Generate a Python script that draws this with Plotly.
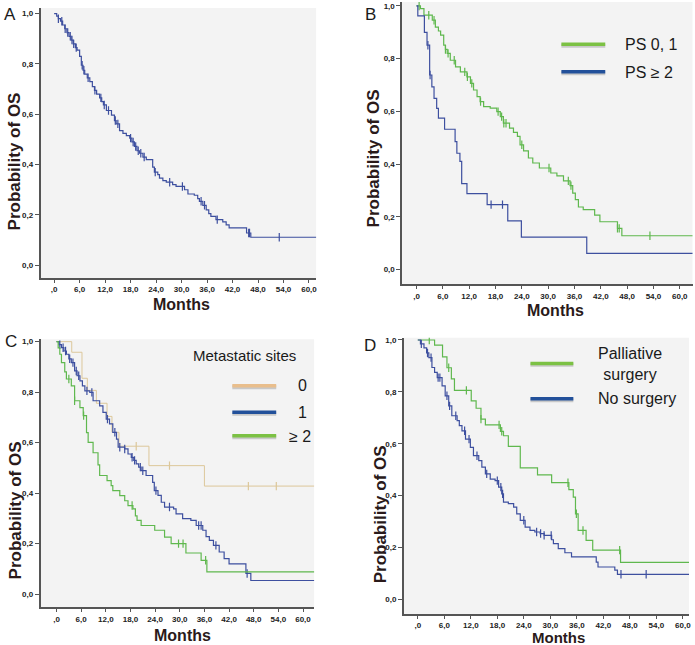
import numpy as np
import plotly.graph_objects as go

# ---------------- DATA ----------------
month_ticks = [0, 6, 12, 18, 24, 30, 36, 42, 48, 54, 60]
month_labels = [",0", "6,0", "12,0", "18,0", "24,0", "30,0", "36,0", "42,0", "48,0", "54,0", "60,0"]
prob_ticks = [0.0, 0.2, 0.4, 0.6, 0.8, 1.0]
prob_labels = ["0,0", "0,2", "0,4", "0,6", "0,8", "1,0"]
last_followup = 65

# Panel A - all patients
a_t = [0, 0.6, 1.0, 1.5, 2.0, 2.5, 3.0, 3.5, 4.0, 4.5, 5.0, 5.4, 6.0, 6.4, 6.8, 7.2, 7.8, 8.4, 9.0, 9.5,
       10.0, 10.7, 11.2, 11.6, 12.3, 13.5, 14.2, 14.6, 15.4, 16.2, 17.0, 17.8, 18.3, 18.9, 19.5, 20.1,
       20.9, 21.7, 23.2, 23.6, 24.4, 24.8, 25.6, 26.4, 27.9, 28.7, 30.7, 31.5, 33.0, 33.8, 34.2, 35.0,
       35.8, 36.4, 36.9, 38.1, 39.7, 40.5, 41.2, 45.3, 46.3]
a_s = [1.0, 0.99, 0.98, 0.97, 0.955, 0.94, 0.925, 0.91, 0.895, 0.88, 0.865, 0.855, 0.83, 0.795, 0.775,
       0.76, 0.745, 0.73, 0.71, 0.695, 0.68, 0.665, 0.65, 0.637, 0.615, 0.597, 0.575, 0.562, 0.535, 0.524,
       0.515, 0.505, 0.49, 0.472, 0.455, 0.445, 0.43, 0.42, 0.39, 0.37, 0.36, 0.346, 0.336, 0.33, 0.32,
       0.313, 0.30, 0.283, 0.278, 0.265, 0.254, 0.238, 0.22, 0.205, 0.194, 0.181, 0.172, 0.16, 0.148,
       0.128, 0.111]
a_cens = [1.0, 1.8, 2.6, 3.2, 3.8, 4.2, 4.6, 5.2, 6.6, 7.0, 8.0, 9.6, 11.0, 11.8, 12.8, 14.4, 15.0, 18.0,
          18.6, 19.2, 19.8, 20.4, 21.2, 23.8, 27.2, 30.2, 34.6, 35.4, 38.4, 45.8, 46.0, 53.0]

# Panel B - performance status
b_names = ["PS 0, 1", "PS ≥ 2"]
b1_t = [0, 0.9, 1.7, 3.6, 4.3, 5.0, 5.5, 6.2, 6.6, 7.0, 7.7, 8.9, 10.0, 11.5, 12.3, 13.0, 13.8, 14.5,
        15.3, 16.8, 18.3, 19.1, 19.8, 21.2, 22.1, 23.0, 23.6, 24.4, 25.5, 26.5, 28.0, 30.6, 32.0, 33.5,
        35.0, 35.6, 36.2, 36.9, 38.0, 40.6, 41.8, 45.8, 46.8]
b1_s = [1.0, 0.99, 0.965, 0.946, 0.92, 0.905, 0.889, 0.851, 0.835, 0.82, 0.794, 0.769, 0.75, 0.731,
        0.706, 0.681, 0.656, 0.637, 0.618, 0.612, 0.599, 0.58, 0.555, 0.536, 0.52, 0.505, 0.473, 0.45,
        0.423, 0.404, 0.385, 0.366, 0.355, 0.336, 0.318, 0.29, 0.265, 0.237, 0.227, 0.206, 0.181, 0.156,
        0.128]
b1_cens = [0.6, 2.8, 4.0, 6.6, 7.2, 8.6, 11.0, 11.6, 12.6, 14.6, 18.6, 19.4, 19.9, 20.4, 24.0, 30.2,
           34.6, 35.2, 45.8, 46.2, 53.2]
b2_t = [0, 0.3, 1.8, 2.4, 3.0, 3.5, 4.0, 4.6, 5.0, 6.4, 8.8, 9.2, 9.9, 10.3, 11.5, 16.1, 20.8, 23.9, 38.8]
b2_s = [1.0, 0.962, 0.90, 0.851, 0.738, 0.693, 0.649, 0.611, 0.574, 0.532, 0.485, 0.441, 0.41, 0.326,
        0.288, 0.246, 0.184, 0.123, 0.061]
b2_cens = [2.6, 3.1, 17.0, 19.6]

# Panel C - metastatic sites
c_title = "Metastatic sites"
c_names = ["0", "1", "≥ 2"]
c0_t = [0, 3.7, 6.2, 7.5, 9.7, 12.3, 13.5, 15.2, 22.5, 36.0]
c0_s = [1.0, 0.958, 0.855, 0.807, 0.756, 0.704, 0.641, 0.586, 0.509, 0.428]
c0_cens = [19.4, 27.5, 46.7, 53.5]
c1_t = [0, 0.6, 1.2, 1.8, 2.4, 3.0, 3.6, 4.4, 5.0, 5.7, 6.3, 6.9, 8.1, 8.9, 10.5, 11.3, 12.1, 12.9,
        13.7, 14.6, 15.0, 16.6, 17.4, 18.2, 18.8, 19.4, 20.0, 20.6, 21.8, 23.4, 23.8, 24.7, 25.5, 26.3,
        28.5, 29.1, 30.7, 32.7, 34.0, 35.6, 36.4, 37.2, 38.2, 39.6, 40.8, 42.0, 46.1, 47.3]
c1_s = [1.0, 0.988, 0.976, 0.963, 0.95, 0.932, 0.917, 0.884, 0.865, 0.845, 0.825, 0.805, 0.799, 0.766,
        0.746, 0.72, 0.693, 0.674, 0.641, 0.614, 0.582, 0.575, 0.555, 0.542, 0.53, 0.516, 0.503, 0.489,
        0.47, 0.443, 0.41, 0.391, 0.364, 0.345, 0.338, 0.318, 0.299, 0.292, 0.272, 0.253, 0.228, 0.213,
        0.193, 0.167, 0.141, 0.12, 0.082, 0.054]
c1_cens = [0.8, 1.6, 2.2, 3.2, 4.0, 4.8, 5.4, 7.4, 8.6, 12.4, 14.2, 15.4, 16.6, 18.4, 19.0, 20.4, 21.0,
           24.2, 27.5, 34.6, 35.2, 38.8, 46.4]
c2_t = [0, 0.4, 0.8, 1.2, 2.0, 2.4, 3.6, 4.4, 5.7, 6.5, 7.3, 7.7, 8.9, 10.1, 10.5, 12.3, 13.3, 13.7,
        15.4, 16.6, 17.4, 18.6, 19.2, 19.6, 20.6, 23.9, 26.3, 27.9, 31.5, 35.2, 36.6]
c2_s = [1.0, 0.975, 0.95, 0.917, 0.88, 0.852, 0.825, 0.766, 0.739, 0.707, 0.64, 0.601, 0.56, 0.512,
        0.47, 0.45, 0.43, 0.41, 0.39, 0.37, 0.351, 0.338, 0.31, 0.292, 0.272, 0.253, 0.226, 0.2, 0.163,
        0.134, 0.088]
c2_cens = [3.0, 4.4, 6.6, 18.4, 29.7, 30.8, 36.3]

# Panel D - palliative surgery
d_names = ["Palliative<br>surgery", "No surgery"]
d1_t = [0, 3.8, 5.6, 6.6, 7.6, 8.3, 12.1, 13.2, 14.3, 15.3, 18.7, 19.4, 20.5, 23.2, 27.1, 30.3, 34.2,
        35.2, 35.7, 36.3, 38.1, 39.6, 45.9]
d1_s = [1.0, 0.98, 0.935, 0.893, 0.85, 0.806, 0.765, 0.737, 0.695, 0.673, 0.648, 0.631, 0.59, 0.507,
        0.48, 0.45, 0.423, 0.394, 0.33, 0.266, 0.228, 0.19, 0.143]
d1_cens = [2.6, 7.0, 11.0, 14.3, 18.4, 19.0, 34.0, 35.9, 37.4, 45.7]
d2_t = [0, 0.6, 1.4, 2.0, 2.5, 3.2, 3.8, 4.4, 5.5, 6.2, 7.0, 7.7, 8.9, 9.4, 10.0, 10.8, 11.9, 12.6,
        13.8, 14.5, 15.3, 16.4, 17.5, 18.3, 19.0, 19.4, 20.5, 21.7, 22.4, 23.2, 24.3, 25.4, 26.5, 27.7,
        28.6, 30.3, 30.7, 31.8, 33.3, 34.8, 40.4, 40.8, 44.6, 45.2]
d2_s = [1.0, 0.985, 0.97, 0.95, 0.932, 0.894, 0.875, 0.855, 0.823, 0.785, 0.746, 0.708, 0.689, 0.67,
        0.65, 0.618, 0.586, 0.554, 0.535, 0.51, 0.484, 0.464, 0.458, 0.433, 0.407, 0.375, 0.369, 0.356,
        0.33, 0.305, 0.279, 0.266, 0.26, 0.254, 0.247, 0.23, 0.215, 0.196, 0.18, 0.164, 0.144, 0.125,
        0.113, 0.097]
d2_cens = [0.8, 2.2, 3.0, 4.6, 5.0, 6.6, 7.2, 8.6, 10.6, 11.6, 13.4, 15.6, 18.0, 18.8, 19.2, 24.0, 26.9,
           27.8, 28.6, 30.2, 46.0, 51.7]

# ---------------- STYLE ----------------
W, H = 695, 645
BLUE = "#3d4f9f"
GREEN = "#5fb84e"
TAN = "#dcc79a"
LEG_BLUE = "#22509a"
LEG_GREEN = "#7cc144"
LEG_TAN = "#e9be8c"
AXIS_COL = "#555555"
PLOT_BG = "#f3f3f3"
FONT = "Liberation Sans, Arial, sans-serif"

# panel geometry in pixels: (left, right, top, bottom), and axis ranges
panels = {
    "A": dict(px=(40.7, 317, 6, 277), xr=(-3.19, 61.67), yr=(-0.0515, 1.0226)),
    "B": dict(px=(403.3, 694.5, 0, 283.3), xr=(-3.27, 62.9), yr=(-0.0568, 1.015)),
    "C": dict(px=(40.7, 315, 338.3, 607.3), xr=(-3.88, 62.7), yr=(-0.0525, 1.0095)),
    "D": dict(px=(405, 691, 336.7, 614), xr=(-3.16, 61.4), yr=(-0.0565, 1.009)),
}


def km_xy(t, s):
    return list(t) + [last_followup], list(s) + [s[-1]]


def cens_y(t, s, c):
    idx = np.searchsorted(np.array(t), np.array(c), side="right") - 1
    return list(np.array(s)[idx])


fig = go.Figure()

layout_axes = {}
for i, (name, p) in enumerate(panels.items(), start=1):
    l, r, tp, b = p["px"]
    xs = "" if i == 1 else str(i)
    layout_axes["xaxis" + xs] = dict(
        domain=[l / W, r / W], range=list(p["xr"]), anchor="y" + xs,
        tickvals=month_ticks, ticktext=month_labels, ticks="outside", ticklen=3,
        tickcolor=AXIS_COL, showline=True, linecolor=AXIS_COL, linewidth=1.5,
        showgrid=False, zeroline=False, fixedrange=True,
        tickfont=dict(family=FONT, size=8, color="#222", weight="bold"),
    )
    layout_axes["yaxis" + xs] = dict(
        domain=[1 - b / H, 1 - tp / H], range=list(p["yr"]), anchor="x" + xs,
        tickvals=prob_ticks, ticktext=prob_labels, ticks="outside", ticklen=4,
        tickcolor=AXIS_COL, showline=True, linecolor=AXIS_COL, linewidth=1.5,
        showgrid=False, zeroline=False, fixedrange=True,
        tickfont=dict(family=FONT, size=8, color="#222", weight="bold"),
    )


def add_curve(t, s, c, color, axis_idx, width=1.2):
    xs = "" if axis_idx == 1 else str(axis_idx)
    x, y = km_xy(t, s)
    fig.add_trace(go.Scatter(x=x, y=y, mode="lines", line=dict(color=color, width=width, shape="hv"),
                             xaxis="x" + xs, yaxis="y" + xs, showlegend=False, hoverinfo="skip"))
    fig.add_trace(go.Scatter(x=c, y=cens_y(t, s, c), mode="markers",
                             marker=dict(symbol="line-ns", size=6, line=dict(color=color, width=1.2)),
                             xaxis="x" + xs, yaxis="y" + xs, showlegend=False, hoverinfo="skip"))


add_curve(a_t, a_s, a_cens, BLUE, 1)
add_curve(b1_t, b1_s, b1_cens, GREEN, 2)
add_curve(b2_t, b2_s, b2_cens, BLUE, 2)
add_curve(c0_t, c0_s, c0_cens, TAN, 3, width=1.0)
add_curve(c1_t, c1_s, c1_cens, BLUE, 3)
add_curve(c2_t, c2_s, c2_cens, GREEN, 3)
add_curve(d1_t, d1_s, d1_cens, GREEN, 4)
add_curve(d2_t, d2_s, d2_cens, BLUE, 4)

annotations = []
shapes = []


def px_text(x, y, text, size, bold=False, angle=0, xanchor="center", yanchor="middle", color="#1a1a1a"):
    annotations.append(dict(x=x / W, y=1 - y / H, xref="paper", yref="paper", text=text, showarrow=False,
                            font=dict(family=FONT, size=size, color=color, weight="bold" if bold else "normal"),
                            textangle=angle, xanchor=xanchor, yanchor=yanchor))


def px_line(x0, x1, y, color):
    shapes.append(dict(type="line", xref="paper", yref="paper", x0=x0 / W, x1=x1 / W,
                       y0=1 - (y + 1.5) / H, y1=1 - (y + 1.5) / H,
                       line=dict(color="rgba(120,120,120,0.35)", width=4)))
    shapes.append(dict(type="line", xref="paper", yref="paper", x0=x0 / W, x1=x1 / W,
                       y0=1 - y / H, y1=1 - y / H, line=dict(color=color, width=3.5)))


# panel letters
px_text(10, 13, "A", 17)
px_text(372, 13, "B", 17)
px_text(11, 341, "C", 17)
px_text(371, 345, "D", 17)

# axis titles
for (yx, yy, mx, my, ms) in [(15, 160, 182, 303, 16), (375, 157, 557, 309, 16),
                             (15, 510, 183, 635, 16), (382, 514, 560, 637.5, 15)]:
    px_text(yx, yy, "Probability of OS", 17, bold=True, angle=-90, color="#2a1a1a")
    px_text(mx, my, "Months", ms, bold=True, color="#2a1a1a")

# legend B
px_line(563, 607, 42.5, LEG_GREEN)
px_text(625, 43, b_names[0], 16, xanchor="left")
px_line(563, 607, 70, LEG_BLUE)
px_text(625, 71, b_names[1], 16, xanchor="left")

# legend C
px_text(192, 355, c_title, 15, xanchor="left")
px_line(233, 277, 385, LEG_TAN)
px_text(303, 385, c_names[0], 16)
px_line(233, 277, 411.5, LEG_BLUE)
px_text(303, 412, c_names[1], 16)
px_line(233, 277, 435, LEG_GREEN)
px_text(301, 436, c_names[2], 16)

# legend D
px_line(532, 575, 362.5, LEG_GREEN)
px_text(598, 363, d_names[0], 16, xanchor="left")
px_line(532, 575, 398, LEG_BLUE)
px_text(598, 398, d_names[1], 16, xanchor="left")

# plot area backgrounds (per panel)
for name, p in panels.items():
    l, r, tp, b = p["px"]
    shapes.insert(0, dict(type="rect", xref="paper", yref="paper", x0=l / W, x1=r / W, y0=1 - b / H,
                          y1=1 - tp / H, fillcolor=PLOT_BG, line=dict(width=0), layer="below"))

fig.update_layout(
    width=W, height=H, margin=dict(l=0, r=0, t=0, b=0),
    paper_bgcolor="white", plot_bgcolor="rgba(0,0,0,0)",
    showlegend=False, annotations=annotations, shapes=shapes,
    **layout_axes,
)

fig.write_html("out.html", config={"displayModeBar": False},
               post_script="document.body.style.margin='0';document.body.style.padding='0';document.body.style.overflow='hidden';")
